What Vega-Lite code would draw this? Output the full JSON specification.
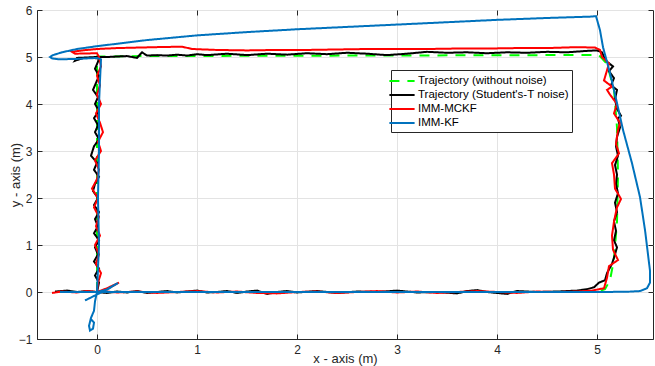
{
"$schema": "https://vega.github.io/schema/vega-lite/v6.json",
"width": 616, "height": 329,
"autosize": {"type": "none"},
"padding": {"left": 37, "top": 10, "right": 2, "bottom": 27},
"background": "white",
"config": {
  "font": "Liberation Sans",
  "view": {"stroke": "#262626", "strokeWidth": 1},
  "axis": {"labelFontSize": 12, "labelColor": "#262626", "titleFontSize": 13, "titleFontWeight": "normal", "titleColor": "#262626", "domainColor": "#262626", "tickColor": "#262626", "gridColor": "#e3e3e3", "tickSize": -5}
},
"data": {"values": [
{"s":"1","i":0,"x":0,"y":0},{"s":"1","i":1,"x":2.5,"y":0},{"s":"1","i":2,"x":5.0,"y":0},{"s":"1","i":3,"x":5.08,"y":0.06},{"s":"1","i":4,"x":5.13,"y":0.25},{"s":"1","i":5,"x":5.17,"y":0.7},{"s":"1","i":6,"x":5.2,"y":1.5},{"s":"1","i":7,"x":5.21,"y":2.5},{"s":"1","i":8,"x":5.2,"y":3.5},{"s":"1","i":9,"x":5.17,"y":4.3},{"s":"1","i":10,"x":5.1,"y":4.85},{"s":"1","i":11,"x":5.02,"y":5.04},{"s":"1","i":12,"x":4.5,"y":5.04},{"s":"1","i":13,"x":2.5,"y":5.03},{"s":"1","i":14,"x":0.5,"y":5.02},{"s":"1","i":15,"x":0,"y":5.01},{"s":"1","i":16,"x":0,"y":2.5},{"s":"1","i":17,"x":0,"y":0},

{"s":"2","i":0,"x":-0.42,"y":0.01},{"s":"2","i":1,"x":-0.3,"y":0.03},{"s":"2","i":2,"x":-0.2,"y":0.0},{"s":"2","i":3,"x":-0.1,"y":0.02},{"s":"2","i":4,"x":0.0,"y":0.0},{"s":"2","i":5,"x":0.1,"y":-0.02},{"s":"2","i":6,"x":0.2,"y":0.01},{"s":"2","i":7,"x":0.3,"y":-0.01},{"s":"2","i":8,"x":0.4,"y":0.02},{"s":"2","i":9,"x":0.5,"y":-0.02},{"s":"2","i":10,"x":0.6,"y":0.0},{"s":"2","i":11,"x":0.7,"y":0.02},{"s":"2","i":12,"x":0.8,"y":-0.01},{"s":"2","i":13,"x":0.9,"y":0.01},{"s":"2","i":14,"x":1.0,"y":0.03},{"s":"2","i":15,"x":1.1,"y":-0.01},{"s":"2","i":16,"x":1.2,"y":0.0},{"s":"2","i":17,"x":1.3,"y":0.02},{"s":"2","i":18,"x":1.4,"y":-0.02},{"s":"2","i":19,"x":1.5,"y":0.01},{"s":"2","i":20,"x":1.6,"y":0.03},{"s":"2","i":21,"x":1.7,"y":-0.04},{"s":"2","i":22,"x":1.8,"y":0.0},{"s":"2","i":23,"x":1.9,"y":0.02},{"s":"2","i":24,"x":2.0,"y":-0.01},{"s":"2","i":25,"x":2.2,"y":0.02},{"s":"2","i":26,"x":2.4,"y":-0.02},{"s":"2","i":27,"x":2.6,"y":0.01},{"s":"2","i":28,"x":2.8,"y":0.0},{"s":"2","i":29,"x":3.0,"y":0.03},{"s":"2","i":30,"x":3.2,"y":-0.01},{"s":"2","i":31,"x":3.4,"y":0.0},{"s":"2","i":32,"x":3.6,"y":-0.03},{"s":"2","i":33,"x":3.7,"y":0.02},{"s":"2","i":34,"x":3.8,"y":0.04},{"s":"2","i":35,"x":3.9,"y":0.0},{"s":"2","i":36,"x":4.0,"y":-0.02},{"s":"2","i":37,"x":4.1,"y":-0.04},{"s":"2","i":38,"x":4.2,"y":0.02},{"s":"2","i":39,"x":4.4,"y":0.0},{"s":"2","i":40,"x":4.6,"y":0.01},{"s":"2","i":41,"x":4.8,"y":0.03},{"s":"2","i":42,"x":4.9,"y":0.06},{"s":"2","i":43,"x":4.97,"y":0.1},{"s":"2","i":44,"x":5.02,"y":0.2},{"s":"2","i":45,"x":5.08,"y":0.25},{"s":"2","i":46,"x":5.1,"y":0.4},
{"s":"2","i":47,"x":5.15,"y":0.6},{"s":"2","i":48,"x":5.18,"y":0.8},{"s":"2","i":49,"x":5.2,"y":0.95},{"s":"2","i":50,"x":5.17,"y":1.1},{"s":"2","i":51,"x":5.19,"y":1.3},{"s":"2","i":52,"x":5.17,"y":1.5},{"s":"2","i":53,"x":5.2,"y":1.7},{"s":"2","i":54,"x":5.18,"y":1.9},{"s":"2","i":55,"x":5.21,"y":2.1},{"s":"2","i":56,"x":5.19,"y":2.3},{"s":"2","i":57,"x":5.2,"y":2.5},{"s":"2","i":58,"x":5.18,"y":2.7},{"s":"2","i":59,"x":5.21,"y":2.9},{"s":"2","i":60,"x":5.19,"y":3.1},{"s":"2","i":61,"x":5.2,"y":3.3},{"s":"2","i":62,"x":5.23,"y":3.5},{"s":"2","i":63,"x":5.21,"y":3.7},{"s":"2","i":64,"x":5.24,"y":3.75},{"s":"2","i":65,"x":5.2,"y":3.9},{"s":"2","i":66,"x":5.18,"y":4.1},{"s":"2","i":67,"x":5.2,"y":4.3},{"s":"2","i":68,"x":5.14,"y":4.4},{"s":"2","i":69,"x":5.17,"y":4.55},{"s":"2","i":70,"x":5.12,"y":4.7},{"s":"2","i":71,"x":5.16,"y":4.8},{"s":"2","i":72,"x":5.1,"y":4.9},{"s":"2","i":73,"x":5.07,"y":5.0},{"s":"2","i":74,"x":5.05,"y":5.1},{"s":"2","i":75,"x":5.0,"y":5.14},
{"s":"2","i":76,"x":4.9,"y":5.13},{"s":"2","i":77,"x":4.7,"y":5.1},{"s":"2","i":78,"x":4.5,"y":5.11},{"s":"2","i":79,"x":4.3,"y":5.09},{"s":"2","i":80,"x":4.1,"y":5.1},{"s":"2","i":81,"x":3.9,"y":5.08},{"s":"2","i":82,"x":3.7,"y":5.1},{"s":"2","i":83,"x":3.5,"y":5.09},{"s":"2","i":84,"x":3.3,"y":5.11},{"s":"2","i":85,"x":3.1,"y":5.07},{"s":"2","i":86,"x":2.9,"y":5.04},{"s":"2","i":87,"x":2.7,"y":5.07},{"s":"2","i":88,"x":2.5,"y":5.09},{"s":"2","i":89,"x":2.3,"y":5.06},{"s":"2","i":90,"x":2.1,"y":5.08},{"s":"2","i":91,"x":1.9,"y":5.05},{"s":"2","i":92,"x":1.7,"y":5.07},{"s":"2","i":93,"x":1.5,"y":5.04},{"s":"2","i":94,"x":1.3,"y":5.07},{"s":"2","i":95,"x":1.1,"y":5.04},{"s":"2","i":96,"x":1.0,"y":5.06},{"s":"2","i":97,"x":0.9,"y":5.03},{"s":"2","i":98,"x":0.8,"y":5.05},{"s":"2","i":99,"x":0.7,"y":5.03},{"s":"2","i":100,"x":0.6,"y":5.04},{"s":"2","i":101,"x":0.5,"y":5.03},{"s":"2","i":102,"x":0.45,"y":5.1},{"s":"2","i":103,"x":0.4,"y":4.98},{"s":"2","i":104,"x":0.3,"y":5.02},{"s":"2","i":105,"x":0.1,"y":5.0},{"s":"2","i":106,"x":0.0,"y":5.0},{"s":"2","i":107,"x":-0.1,"y":4.99},{"s":"2","i":108,"x":-0.2,"y":4.98},{"s":"2","i":109,"x":-0.22,"y":4.92},{"s":"2","i":110,"x":-0.12,"y":4.99},{"s":"2","i":111,"x":0.02,"y":4.97},
{"s":"2","i":112,"x":0.01,"y":4.9},{"s":"2","i":113,"x":-0.02,"y":4.75},{"s":"2","i":114,"x":0.02,"y":4.6},{"s":"2","i":115,"x":-0.01,"y":4.45},{"s":"2","i":116,"x":-0.04,"y":4.3},{"s":"2","i":117,"x":0.01,"y":4.15},{"s":"2","i":118,"x":-0.02,"y":4.0},{"s":"2","i":119,"x":0.02,"y":3.85},{"s":"2","i":120,"x":-0.03,"y":3.7},{"s":"2","i":121,"x":0.01,"y":3.55},{"s":"2","i":122,"x":-0.02,"y":3.4},{"s":"2","i":123,"x":0.02,"y":3.25},{"s":"2","i":124,"x":-0.03,"y":3.1},{"s":"2","i":125,"x":-0.06,"y":2.9},{"s":"2","i":126,"x":0.0,"y":2.75},{"s":"2","i":127,"x":-0.03,"y":2.6},{"s":"2","i":128,"x":0.02,"y":2.45},{"s":"2","i":129,"x":-0.02,"y":2.3},{"s":"2","i":130,"x":-0.04,"y":2.15},{"s":"2","i":131,"x":0.01,"y":2.0},{"s":"2","i":132,"x":-0.03,"y":1.85},{"s":"2","i":133,"x":0.02,"y":1.7},{"s":"2","i":134,"x":-0.02,"y":1.55},{"s":"2","i":135,"x":0.01,"y":1.4},{"s":"2","i":136,"x":-0.03,"y":1.25},{"s":"2","i":137,"x":0.02,"y":1.1},{"s":"2","i":138,"x":-0.02,"y":0.95},{"s":"2","i":139,"x":0.01,"y":0.8},{"s":"2","i":140,"x":-0.03,"y":0.65},{"s":"2","i":141,"x":0.02,"y":0.5},{"s":"2","i":142,"x":-0.02,"y":0.35},{"s":"2","i":143,"x":0.02,"y":0.2},{"s":"2","i":144,"x":0.0,"y":0.0},

{"s":"3","i":0,"x":-0.45,"y":-0.02},{"s":"3","i":1,"x":-0.35,"y":0.01},{"s":"3","i":2,"x":-0.2,"y":-0.01},{"s":"3","i":3,"x":-0.1,"y":0.02},{"s":"3","i":4,"x":0.0,"y":0.0},{"s":"3","i":5,"x":0.1,"y":0.08},{"s":"3","i":6,"x":0.22,"y":0.2},{"s":"3","i":7,"x":0.15,"y":0.12},{"s":"3","i":8,"x":0.05,"y":0.02},{"s":"3","i":9,"x":0.2,"y":-0.01},{"s":"3","i":10,"x":0.4,"y":0.01},{"s":"3","i":11,"x":0.6,"y":-0.02},{"s":"3","i":12,"x":0.8,"y":0.0},{"s":"3","i":13,"x":1.0,"y":0.02},{"s":"3","i":14,"x":1.2,"y":-0.01},{"s":"3","i":15,"x":1.4,"y":0.01},{"s":"3","i":16,"x":1.6,"y":-0.02},{"s":"3","i":17,"x":1.8,"y":-0.03},{"s":"3","i":18,"x":2.0,"y":0.0},{"s":"3","i":19,"x":2.2,"y":0.01},{"s":"3","i":20,"x":2.4,"y":-0.02},{"s":"3","i":21,"x":2.6,"y":0.0},{"s":"3","i":22,"x":2.8,"y":0.02},{"s":"3","i":23,"x":3.0,"y":-0.01},{"s":"3","i":24,"x":3.2,"y":0.01},{"s":"3","i":25,"x":3.4,"y":-0.02},{"s":"3","i":26,"x":3.6,"y":0.0},{"s":"3","i":27,"x":3.8,"y":0.02},{"s":"3","i":28,"x":4.0,"y":0.0},{"s":"3","i":29,"x":4.2,"y":-0.02},{"s":"3","i":30,"x":4.4,"y":0.01},{"s":"3","i":31,"x":4.6,"y":0.0},{"s":"3","i":32,"x":4.8,"y":0.01},{"s":"3","i":33,"x":4.95,"y":0.03},{"s":"3","i":34,"x":5.07,"y":0.08},{"s":"3","i":35,"x":5.1,"y":0.3},{"s":"3","i":36,"x":5.12,"y":0.55},{"s":"3","i":37,"x":5.21,"y":0.68},
{"s":"3","i":38,"x":5.16,"y":0.9},{"s":"3","i":39,"x":5.15,"y":1.2},{"s":"3","i":40,"x":5.17,"y":1.5},{"s":"3","i":41,"x":5.2,"y":1.8},{"s":"3","i":42,"x":5.24,"y":1.98},{"s":"3","i":43,"x":5.18,"y":2.2},{"s":"3","i":44,"x":5.17,"y":2.5},{"s":"3","i":45,"x":5.15,"y":2.74},{"s":"3","i":46,"x":5.22,"y":2.95},{"s":"3","i":47,"x":5.19,"y":3.15},{"s":"3","i":48,"x":5.21,"y":3.45},{"s":"3","i":49,"x":5.23,"y":3.6},{"s":"3","i":50,"x":5.17,"y":3.8},{"s":"3","i":51,"x":5.2,"y":4.0},{"s":"3","i":52,"x":5.13,"y":4.2},{"s":"3","i":53,"x":5.1,"y":4.3},{"s":"3","i":54,"x":5.15,"y":4.37},{"s":"3","i":55,"x":5.07,"y":4.5},{"s":"3","i":56,"x":5.12,"y":4.86},{"s":"3","i":57,"x":5.05,"y":5.0},{"s":"3","i":58,"x":5.03,"y":5.15},{"s":"3","i":59,"x":4.98,"y":5.2},
{"s":"3","i":60,"x":4.8,"y":5.21},{"s":"3","i":61,"x":4.5,"y":5.19},{"s":"3","i":62,"x":4.2,"y":5.19},{"s":"3","i":63,"x":3.9,"y":5.18},{"s":"3","i":64,"x":3.6,"y":5.18},{"s":"3","i":65,"x":3.3,"y":5.17},{"s":"3","i":66,"x":3.0,"y":5.17},{"s":"3","i":67,"x":2.7,"y":5.17},{"s":"3","i":68,"x":2.4,"y":5.16},{"s":"3","i":69,"x":2.1,"y":5.15},{"s":"3","i":70,"x":1.8,"y":5.15},{"s":"3","i":71,"x":1.5,"y":5.14},{"s":"3","i":72,"x":1.2,"y":5.15},{"s":"3","i":73,"x":0.95,"y":5.17},{"s":"3","i":74,"x":0.85,"y":5.22},{"s":"3","i":75,"x":0.6,"y":5.21},{"s":"3","i":76,"x":0.4,"y":5.2},{"s":"3","i":77,"x":0.2,"y":5.19},{"s":"3","i":78,"x":0.0,"y":5.17},{"s":"3","i":79,"x":-0.15,"y":5.14},{"s":"3","i":80,"x":-0.25,"y":5.11},{"s":"3","i":81,"x":-0.22,"y":5.07},{"s":"3","i":82,"x":0.0,"y":5.08},
{"s":"3","i":83,"x":0.02,"y":5.0},{"s":"3","i":84,"x":0.04,"y":4.8},{"s":"3","i":85,"x":0.0,"y":4.6},{"s":"3","i":86,"x":0.03,"y":4.4},{"s":"3","i":87,"x":0.0,"y":4.2},{"s":"3","i":88,"x":0.04,"y":4.0},{"s":"3","i":89,"x":-0.01,"y":3.8},{"s":"3","i":90,"x":0.03,"y":3.6},{"s":"3","i":91,"x":0.06,"y":3.4},{"s":"3","i":92,"x":0.01,"y":3.2},{"s":"3","i":93,"x":0.04,"y":3.0},{"s":"3","i":94,"x":-0.02,"y":2.8},{"s":"3","i":95,"x":0.02,"y":2.6},{"s":"3","i":96,"x":0.0,"y":2.4},{"s":"3","i":97,"x":-0.05,"y":2.2},{"s":"3","i":98,"x":0.01,"y":2.0},{"s":"3","i":99,"x":-0.03,"y":1.8},{"s":"3","i":100,"x":0.02,"y":1.6},{"s":"3","i":101,"x":-0.01,"y":1.4},{"s":"3","i":102,"x":0.03,"y":1.2},{"s":"3","i":103,"x":-0.02,"y":1.0},{"s":"3","i":104,"x":0.02,"y":0.8},{"s":"3","i":105,"x":-0.01,"y":0.6},{"s":"3","i":106,"x":0.04,"y":0.4},{"s":"3","i":107,"x":0.01,"y":0.2},{"s":"3","i":108,"x":0.0,"y":0.0},

{"s":"4","i":0,"x":-0.12,"y":-0.18},{"s":"4","i":1,"x":0.05,"y":0.0},{"s":"4","i":2,"x":0.21,"y":0.19},{"s":"4","i":3,"x":0.1,"y":0.05},{"s":"4","i":4,"x":0.0,"y":0.0},{"s":"4","i":5,"x":-0.37,"y":0.0},{"s":"4","i":6,"x":0.0,"y":0.0},{"s":"4","i":7,"x":0.5,"y":0.0},{"s":"4","i":8,"x":1.0,"y":0.0},{"s":"4","i":9,"x":2.0,"y":0.0},{"s":"4","i":10,"x":3.0,"y":0.0},{"s":"4","i":11,"x":4.0,"y":0.0},{"s":"4","i":12,"x":5.0,"y":0.0},{"s":"4","i":13,"x":5.3,"y":0.005},{"s":"4","i":14,"x":5.43,"y":0.02},{"s":"4","i":15,"x":5.5,"y":0.08},{"s":"4","i":16,"x":5.53,"y":0.2},{"s":"4","i":17,"x":5.53,"y":0.45},{"s":"4","i":18,"x":5.51,"y":0.8},{"s":"4","i":19,"x":5.48,"y":1.32},{"s":"4","i":20,"x":5.43,"y":2.02},{"s":"4","i":21,"x":5.35,"y":2.74},{"s":"4","i":22,"x":5.26,"y":3.45},{"s":"4","i":23,"x":5.2,"y":4.02},{"s":"4","i":24,"x":5.13,"y":4.66},{"s":"4","i":25,"x":5.06,"y":5.21},{"s":"4","i":26,"x":5.03,"y":5.57},{"s":"4","i":27,"x":4.99,"y":5.87},{"s":"4","i":28,"x":4.95,"y":5.86},{"s":"4","i":29,"x":4.5,"y":5.83},{"s":"4","i":30,"x":4.0,"y":5.79},{"s":"4","i":31,"x":3.5,"y":5.74},{"s":"4","i":32,"x":3.0,"y":5.69},{"s":"4","i":33,"x":2.5,"y":5.64},{"s":"4","i":34,"x":2.0,"y":5.59},{"s":"4","i":35,"x":1.5,"y":5.53},{"s":"4","i":36,"x":1.0,"y":5.46},{"s":"4","i":37,"x":0.5,"y":5.36},{"s":"4","i":38,"x":0.0,"y":5.23},{"s":"4","i":39,"x":-0.2,"y":5.17},{"s":"4","i":40,"x":-0.35,"y":5.1},{"s":"4","i":41,"x":-0.44,"y":5.04},{"s":"4","i":42,"x":-0.47,"y":5.0},{"s":"4","i":43,"x":-0.45,"y":4.97},{"s":"4","i":44,"x":-0.38,"y":4.95},{"s":"4","i":45,"x":-0.2,"y":4.96},{"s":"4","i":46,"x":0.0,"y":4.98},{"s":"4","i":47,"x":0.04,"y":4.95},{"s":"4","i":48,"x":0.03,"y":4.5},{"s":"4","i":49,"x":0.02,"y":4.0},{"s":"4","i":50,"x":0.02,"y":3.0},{"s":"4","i":51,"x":0.01,"y":2.0},{"s":"4","i":52,"x":0.02,"y":1.0},{"s":"4","i":53,"x":0.01,"y":0.5},{"s":"4","i":54,"x":0.0,"y":0.0},{"s":"4","i":55,"x":-0.02,"y":-0.2},{"s":"4","i":56,"x":-0.03,"y":-0.4},{"s":"4","i":57,"x":-0.06,"y":-0.55},{"s":"4","i":58,"x":-0.08,"y":-0.72},{"s":"4","i":59,"x":-0.07,"y":-0.82},{"s":"4","i":60,"x":-0.04,"y":-0.78},{"s":"4","i":61,"x":-0.03,"y":-0.65},{"s":"4","i":62,"x":-0.06,"y":-0.58}
]},
"layer": [
 {"mark": {"type": "line", "strokeWidth": 2, "clip": true},
  "encoding": {
   "x": {"field": "x", "type": "quantitative", "scale": {"domain": [-0.6, 5.56], "nice": false, "zero": false},
         "axis": {"title": "x - axis (m)", "values": [0,1,2,3,4,5], "grid": true, "labelPadding": 10, "titleY": 13, "titleBaseline": "top"}},
   "y": {"field": "y", "type": "quantitative", "scale": {"domain": [-1, 6], "nice": false, "zero": false},
         "axis": {"title": "y - axis (m)", "values": [-1,0,1,2,3,4,5,6], "grid": true, "labelPadding": 10, "titleX": -22, "titleBaseline": "middle"}},
   "color": {"field": "s", "type": "nominal",
     "scale": {"domain": ["1","2","3","4"], "range": ["#00ff00", "#000000", "#ff0000", "#0072bd"]},
     "legend": {"title": null, "orient": "none", "legendX": 354, "legendY": 60, "fillColor": "white", "strokeColor": "#262626", "padding": 3, "symbolType": "M-1.8,0H1.8", "symbolSize": 196, "symbolStrokeWidth": 2, "labelFontSize": 11.5, "labelColor": "#000000", "labelOffset": 8, "rowPadding": 0,
       "labelExpr": "datum.label == '1' ? 'Trajectory (without noise)' : datum.label == '2' ? \"Trajectory (Student's-T noise)\" : datum.label == '3' ? 'IMM-MCKF' : 'IMM-KF'"}},
   "strokeDash": {"field": "s", "type": "nominal", "scale": {"domain": ["1","2","3","4"], "range": [[10,8],[1,0],[1,0],[1,0]]}},
   "order": {"field": "i", "type": "quantitative"}
  }},
 {"mark": {"type": "point", "opacity": 0},
  "encoding": {
   "x": {"field": "x", "type": "quantitative", "axis": {"orient": "top", "labels": false, "grid": false, "domain": false, "title": null, "values": [0,1,2,3,4,5]}},
   "y": {"field": "y", "type": "quantitative", "axis": {"orient": "right", "labels": false, "grid": false, "domain": false, "title": null, "values": [-1,0,1,2,3,4,5,6]}}
  }}
],
"resolve": {"axis": {"x": "independent", "y": "independent"}}
}
